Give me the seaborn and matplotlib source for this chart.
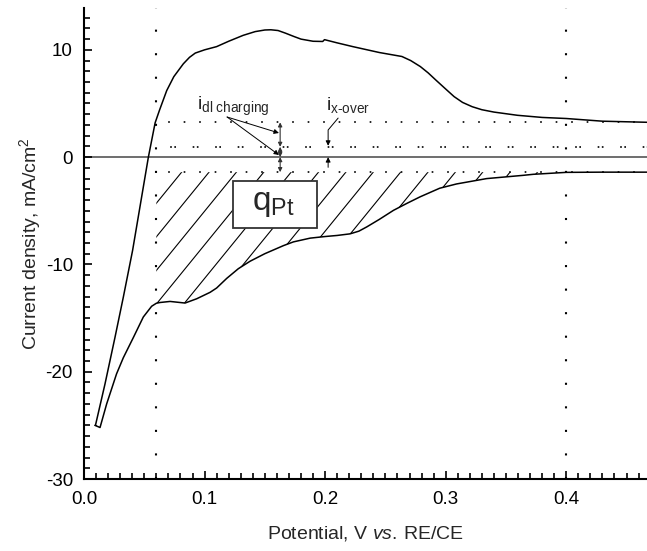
import numpy as np
import pandas as pd
import matplotlib
matplotlib.use("Agg")
import matplotlib.pyplot as plt
import seaborn as sns
from matplotlib.patches import Rectangle

# anodic (upper) branch, potential in V and current density in mA/cm2
upper_E = [0.0095, 0.0174, 0.0257, 0.0326, 0.0403, 0.0473, 0.0534, 0.059, 0.0627, 0.0686,
           0.0745, 0.0824, 0.0875, 0.0923, 0.100, 0.110, 0.120, 0.132, 0.142, 0.150,
           0.155, 0.161, 0.167, 0.174, 0.180, 0.190, 0.198, 0.1995, 0.210, 0.223,
           0.235, 0.245, 0.2637, 0.271, 0.279, 0.2855, 0.2917, 0.300, 0.307, 0.314,
           0.322, 0.330, 0.340, 0.3595, 0.380, 0.400, 0.430, 0.470]
upper_i = [-25.0, -21.15, -16.8, -13.06, -8.7, -4.05, 0.0, 3.2, 4.4, 6.2,
           7.5, 8.7, 9.3, 9.7, 10.0, 10.3, 10.8, 11.35, 11.7, 11.85,
           11.87, 11.8, 11.56, 11.25, 11.0, 10.8, 10.78, 10.95, 10.65, 10.3,
           10.0, 9.75, 9.38, 9.0, 8.44, 7.85, 7.2, 6.35, 5.64, 5.1,
           4.7, 4.42, 4.2, 3.9, 3.7, 3.6, 3.35, 3.24]

# cathodic (lower) branch
lower_E = [0.0091, 0.0133, 0.0188, 0.027, 0.0326, 0.041, 0.0492, 0.0561, 0.060, 0.063,
           0.0714, 0.0838, 0.0935, 0.1046, 0.110, 0.1184, 0.128, 0.1378, 0.150, 0.1654,
           0.1737, 0.1876, 0.200, 0.210, 0.2207, 0.228, 0.2346, 0.245, 0.2567, 0.268,
           0.2788, 0.295, 0.309, 0.334, 0.364, 0.3727, 0.400, 0.430, 0.470]
lower_i = [-25.0, -25.2, -23.0, -20.2, -18.7, -16.8, -14.9, -13.9, -13.62, -13.55,
           -13.45, -13.6, -13.2, -12.6, -12.2, -11.3, -10.4, -9.7, -9.0, -8.25,
           -7.9, -7.55, -7.4, -7.3, -7.15, -6.9, -6.5, -5.8, -4.96, -4.3,
           -3.7, -2.9, -2.5, -2.0, -1.7, -1.6, -1.42, -1.4, -1.4]

# reference levels
i_top = 3.24      # upper double-layer level
i_mid = 0.96      # crossover level
i_low = -1.4      # lower double-layer level
E_low = 0.06
E_high = 0.40
E_arrow_dl = 0.1627
E_arrow_x = 0.2025

sns.set_theme(style="ticks")
plt.rcParams["font.family"] = ["Liberation Sans", "DejaVu Sans"]
plt.rcParams["mathtext.fontset"] = "custom"
plt.rcParams["mathtext.rm"] = "Liberation Sans"
plt.rcParams["mathtext.it"] = "Liberation Sans:italic"
plt.rcParams["axes.unicode_minus"] = False
plt.rcParams["axes.axisbelow"] = False
plt.rcParams["xtick.direction"] = "in"
plt.rcParams["ytick.direction"] = "in"
plt.rcParams["xtick.minor.visible"] = True
plt.rcParams["ytick.minor.visible"] = True

fig = plt.figure(figsize=(6.47, 5.51), dpi=100)
ax = fig.add_axes([84 / 647, 1 - 479 / 551, 1 - 84 / 647, (479 - 8) / 551])

df = pd.DataFrame({
    "E": upper_E + lower_E[::-1],
    "i": upper_i + lower_i[::-1],
})
sns.lineplot(data=df, x="E", y="i", sort=False, estimator=None,
             color="black", lw=1.1, ax=ax)

# reference lines
ax.axhline(0, color="#555555", lw=1.2, zorder=1)
for e in (E_low, E_high):
    ax.axvline(e, color="black", lw=1.5, ls=(0, (1, 10.3)), zorder=1)
ax.hlines([i_top, i_low], E_low, 0.467, color="black", lw=1.2, ls=(2, (1, 8.3)), zorder=1)
ax.hlines(i_mid, E_low, 0.467, color="black", lw=1.2, ls=(5, (1, 1.5, 1, 10)), zorder=1)

# hatched charge area
lx = np.array(lower_E)
region = ax.fill_between(lx, lower_i, i_low, where=lx >= E_low,
                         facecolor="none", edgecolor="none")
clip = region.get_paths()[0]
for x0 in np.arange(0.081, 0.405, 0.0227):
    ln, = ax.plot([x0 + 0.01, x0 - 0.2], [i_low + 138 * 0.01, i_low - 138 * 0.2],
                  color="black", lw=0.8)
    ln.set_clip_path(clip, ax.transData)

# q_Pt box
ax.add_patch(Rectangle((0.1234, -6.6), 0.0696, 4.36, facecolor="white",
                       edgecolor="#333333", lw=1.3, zorder=4))
ax.text(0.1575, -4.3, r"$\mathregular{q_{Pt}}$", fontsize=24,
        ha="center", va="center", zorder=5)

# double arrows
arr = dict(arrowstyle="<|-|>", color="#333333", lw=0.8, mutation_scale=6,
           shrinkA=0, shrinkB=0)
for y0, y1 in ((i_top, i_mid), (i_mid, 0), (0, i_low)):
    ax.annotate("", xy=(E_arrow_dl, y1), xytext=(E_arrow_dl, y0), arrowprops=arr)

one = dict(arrowstyle="-|>", color="black", lw=0.7, mutation_scale=7,
           shrinkA=0, shrinkB=0)
ax.text(0.0938, 4.35, r"$\mathregular{i_{dl\ charging}}$", fontsize=14, va="baseline")
ax.annotate("", xy=(E_arrow_dl - 0.001, 2.25), xytext=(0.1187, 3.74), arrowprops=one)
ax.annotate("", xy=(E_arrow_dl - 0.001, 0.2), xytext=(0.1187, 3.74), arrowprops=one)

ax.text(0.2008, 4.35, r"$\mathregular{i_{x\text{-}over}}$", fontsize=14, va="baseline")
ax.annotate("", xy=(E_arrow_x, i_mid + 0.1), xytext=(0.2108, 3.64),
            arrowprops=dict(one, connectionstyle="angle,angleA=50,angleB=90,rad=0"))
ax.annotate("", xy=(E_arrow_x, 0), xytext=(E_arrow_x, -0.95), arrowprops=one)

ax.set_xlim(0, 0.467)
ax.set_ylim(-30, 13.9)
ax.set_xticks([0.0, 0.1, 0.2, 0.3, 0.4])
ax.set_xticklabels(["0.0", "0.1", "0.2", "0.3", "0.4"])
ax.set_xticks(np.arange(0, 0.467, 0.01), minor=True)
ax.set_yticks([-30, -20, -10, 0, 10])
ax.set_yticks(np.arange(-30, 14, 1), minor=True)

ax.set_xlabel(r"Potential, V $\mathit{vs.}\,$RE/CE", fontsize=14, labelpad=11)
ax.set_ylabel(r"Current density, mA/cm$^2$", fontsize=14, labelpad=2)
sns.despine(ax=ax)
for s in ("left", "bottom"):
    ax.spines[s].set_linewidth(1.5)
    ax.spines[s].set_color("black")

ax.tick_params(which="both", direction="in", width=1.2, color="black",
               labelsize=13.5, labelcolor="black", bottom=True, left=True)
ax.tick_params(which="major", length=6)
ax.tick_params(which="minor", length=4)
ax.tick_params(axis="x", which="major", pad=9)
ax.tick_params(axis="y", which="major", pad=8)
ax.set_axisbelow(False)

fig.savefig("out.png", dpi=100)
